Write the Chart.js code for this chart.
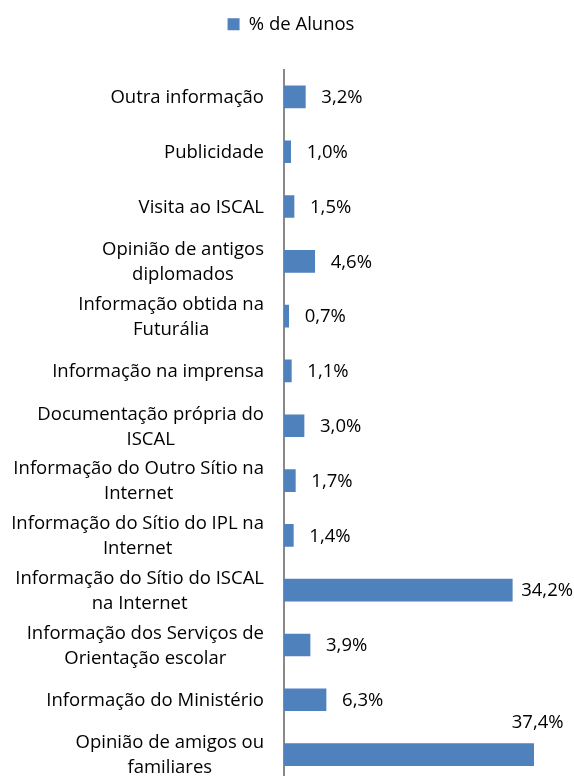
<!DOCTYPE html>
<html>
<head>
<meta charset="utf-8">
<script src="https://cdn.jsdelivr.net/npm/chart.js@4/dist/chart.umd.min.js"></script>
<style>
  html, body { margin: 0; padding: 0; background: #fff; overflow: hidden; }
  canvas { display: block; }
</style>
</head>
<body>
<canvas id="myChart" width="574" height="790"></canvas>
<script>
var categories = [
    ['Outra informação'],
    ['Publicidade'],
    ['Visita ao ISCAL'],
    ['Opinião de antigos', 'diplomados'],
    ['Informação obtida na', 'Futurália'],
    ['Informação na imprensa'],
    ['Documentação própria do', 'ISCAL'],
    ['Informação do Outro Sítio na', 'Internet'],
    ['Informação do Sítio do IPL na', 'Internet'],
    ['Informação do Sítio do ISCAL', 'na Internet'],
    ['Informação dos Serviços de', 'Orientação escolar'],
    ['Informação do Ministério'],
    ['Opinião de amigos ou', 'familiares']
];
var alunos = [3.2, 1.0, 1.5, 4.6, 0.7, 1.1, 3.0, 1.7, 1.4, 34.2, 3.9, 6.3, 37.4];

var fontName = '"Open Sans", sans-serif';
var fontSize = 18.5;
var barColour = '#4f81bd';

// category labels: each block centred on itself, right-aligned against the axis
var categoryLabels = {
    id: 'categoryLabels',
    afterDraw: function(chart){
        var ctx = chart.ctx;
        var yScale = chart.scales.y;
        var right = chart.chartArea.left - 20;
        var lineH = 25;
        ctx.save();
        ctx.font = fontSize + 'px ' + fontName;
        ctx.fillStyle = '#000';
        ctx.textBaseline = 'middle';
        ctx.textAlign = 'center';
        for (var i = 0; i < categories.length; i++){
            var lines = categories[i];
            var w = 0;
            for (var j = 0; j < lines.length; j++){
                w = Math.max(w, ctx.measureText(lines[j]).width);
            }
            var cx = right - w / 2;
            var cy = yScale.getPixelForValue(i) + 1;
            var y0 = cy - (lines.length - 1) * lineH / 2;
            for (var j = 0; j < lines.length; j++){
                ctx.fillText(lines[j], cx, y0 + j * lineH);
            }
        }
        ctx.restore();
    }
};

// value labels outside the bar end, moved left or above when they don't fit
var valueLabels = {
    id: 'valueLabels',
    afterDatasetsDraw: function(chart){
        var ctx = chart.ctx;
        var meta = chart.getDatasetMeta(0);
        var maxRight = chart.width - 1;
        ctx.save();
        ctx.font = fontSize + 'px ' + fontName;
        ctx.fillStyle = '#000';
        ctx.textBaseline = 'middle';
        ctx.textAlign = 'left';
        meta.data.forEach(function(bar, i){
            var txt = alunos[i].toFixed(1).replace('.', ',') + '%';
            var w = ctx.measureText(txt).width;
            var x = bar.x + 16;
            var y = bar.y + 1;
            if (x + w > maxRight){
                x = maxRight - w;
                if (x < bar.x){
                    x = Math.min(bar.x + 4 - w / 2, maxRight - w - 8);
                    y = bar.y - 32;
                }
            }
            ctx.fillText(txt, x, y);
        });
        ctx.restore();
    }
};

// extra room under the legend
var legendGap = {
    id: 'legendGap',
    beforeInit: function(chart){
        var origFit = chart.legend.fit;
        chart.legend.fit = function(){
            origFit.bind(chart.legend)();
            this.height += 26;
        };
    }
};

var ctx = document.getElementById('myChart').getContext('2d');
var myChart = new Chart(ctx, {
    type: 'bar',
    data: {
        labels: categories,
        datasets: [{
            label: '% de Alunos',
            data: alunos,
            backgroundColor: barColour,
            borderColor: barColour,
            borderWidth: 0,
            barThickness: 22
        }]
    },
    options: {
        indexAxis: 'y',
        responsive: false,
        animation: false,
        layout: {
            padding: { top: 5, right: 23, bottom: 8, left: 31 }
        },
        scales: {
            x: {
                display: false,
                min: 0,
                max: 40
            },
            y: {
                ticks: { display: false },
                grid: { display: false, drawTicks: false },
                border: { display: true, color: '#898989', width: 2 },
                afterFit: function(scale){
                    scale.width = 253;
                }
            }
        },
        plugins: {
            legend: {
                position: 'top',
                labels: {
                    color: '#000',
                    boxWidth: 12,
                    boxHeight: 12,
                    padding: 10,
                    font: { size: fontSize, family: fontName }
                }
            },
            tooltip: { enabled: false }
        }
    },
    plugins: [categoryLabels, valueLabels, legendGap]
});
</script>
</body>
</html>
